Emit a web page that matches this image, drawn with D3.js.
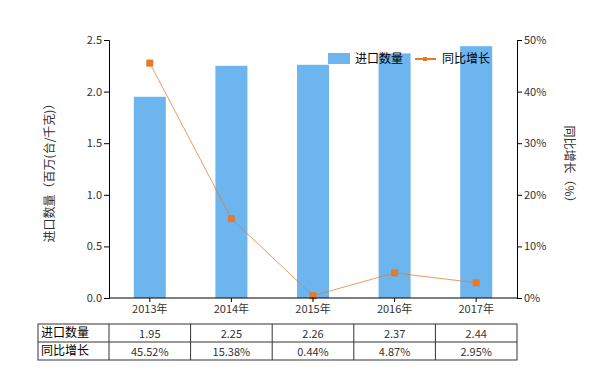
<!DOCTYPE html>
<html><head><meta charset="utf-8">
<script src="https://cdn.jsdelivr.net/npm/d3@7"></script>
<style>body{margin:0;background:#fff;} text{font-family:"Noto Sans CJK SC","Microsoft YaHei",sans-serif;}</style>
</head><body>
<svg id="c" width="605" height="375"></svg>
<script>
const categories = ["2013年","2014年","2015年","2016年","2017年"];
const importQty = [1.95, 2.25, 2.26, 2.37, 2.44];
const yoyGrowth = [45.52, 15.38, 0.44, 4.87, 2.95];
const qtyLabels = ["1.95","2.25","2.26","2.37","2.44"];
const growthLabels = ["45.52%","15.38%","0.44%","4.87%","2.95%"];
const leftTicks = [0,0.5,1.0,1.5,2.0,2.5];
const rightTicks = [0,10,20,30,40,50];
const seriesNames = ["进口数量","同比增长"];

const svg = d3.select("#c");
const L = 109, R = 517, T = 40, B = 298;
const barColor = "#6cb5ee", lineColor = "#e8782a", textColor = "#333";

const xc = d3.scaleBand().domain(categories).range([L, R]);
const yL = d3.scaleLinear().domain([0, 2.5]).range([B, T]);
const yR = d3.scaleLinear().domain([0, 50]).range([B, T]);

// bars
svg.append("g").selectAll("rect").data(importQty).join("rect")
  .attr("x", (d,i) => xc(categories[i]) + xc.bandwidth()/2 - 16)
  .attr("width", 32)
  .attr("y", d => yL(d)).attr("height", d => B - yL(d))
  .attr("fill", barColor);

// line
const line = d3.line().x((d,i) => xc(categories[i]) + xc.bandwidth()/2).y(d => yR(d));
svg.append("path").datum(yoyGrowth).attr("d", line)
  .attr("fill","none").attr("stroke", lineColor).attr("stroke-width", 1).attr("opacity",0.75);
svg.append("g").selectAll("rect").data(yoyGrowth).join("rect")
  .attr("x", (d,i) => xc(categories[i]) + xc.bandwidth()/2 - 3.5)
  .attr("y", d => yR(d) - 3.5).attr("width", 7).attr("height", 7)
  .attr("fill", lineColor);

// axes
const axL = svg.append("g").attr("transform", `translate(${L},0)`)
  .call(d3.axisLeft(yL).tickValues(leftTicks).tickFormat(d3.format(".1f")).tickSize(5).tickPadding(2));
const axR = svg.append("g").attr("transform", `translate(${R},0)`)
  .call(d3.axisRight(yR).tickValues(rightTicks).tickFormat(d => d + "%").tickSize(5).tickPadding(2));
const axB = svg.append("g").attr("transform", `translate(0,${B})`)
  .call(d3.axisBottom(xc).tickSize(4).tickPadding(3));
[axL, axR, axB].forEach(a => {
  a.selectAll("path.domain").attr("stroke", "#000");
  a.selectAll("line").attr("stroke", "#000");
  a.selectAll("text").attr("fill", textColor).style("font-size", "11px");
});
axB.select("path.domain").attr("d", `M${L},0H${R}`);

// axis titles
svg.append("text").attr("transform", "translate(54,170) rotate(-90)")
  .attr("text-anchor","middle").attr("fill", textColor).style("font-size","12px")
  .text("进口数量（百万(台/千克)）");
svg.append("text").attr("transform", "translate(565,167) rotate(90)")
  .attr("text-anchor","middle").attr("fill", textColor).style("font-size","12px")
  .text("同比增长（%）");

// legend
const lg = svg.append("g");
lg.append("rect").attr("x", 328).attr("y", 53).attr("width", 22).attr("height", 11).attr("fill", barColor);
lg.append("text").attr("x", 355).attr("y", 63).attr("fill", "#000").style("font-size","12px").text(seriesNames[0]);
lg.append("line").attr("x1", 415).attr("x2", 436).attr("y1", 59).attr("y2", 59).attr("stroke", lineColor).attr("stroke-width", 2);
lg.append("rect").attr("x", 423).attr("y", 57).attr("width", 4).attr("height", 4).attr("fill", lineColor);
lg.append("text").attr("x", 442).attr("y", 63).attr("fill", "#000").style("font-size","12px").text(seriesNames[1]);

// table
const tT = 324, rowH = 18, tL = 38, firstW = 71;
const tbl = svg.append("g");
const rows = [{name: seriesNames[0], vals: qtyLabels}, {name: seriesNames[1], vals: growthLabels}];
tbl.append("rect").attr("x", tL).attr("y", tT).attr("width", R - tL).attr("height", rowH*2)
  .attr("fill","none").attr("stroke","#333").attr("stroke-width",1);
tbl.append("line").attr("x1", tL).attr("x2", R).attr("y1", tT+rowH).attr("y2", tT+rowH).attr("stroke","#333");
const cols = [tL + firstW].concat(categories.slice(1).map(c => xc(c)));
cols.forEach(cx => tbl.append("line").attr("x1", cx).attr("x2", cx).attr("y1", tT).attr("y2", tT+rowH*2).attr("stroke","#333"));
rows.forEach((r, ri) => {
  tbl.append("text").attr("x", tL + 3).attr("y", tT + ri*rowH + 13).attr("fill","#000").style("font-size","12px").text(r.name);
  r.vals.forEach((v, i) => {
    tbl.append("text").attr("x", xc(categories[i]) + xc.bandwidth()/2).attr("y", tT + ri*rowH + 14)
      .attr("text-anchor","middle").attr("fill", textColor).style("font-size","11px").text(v);
  });
});
</script>
</body></html>
